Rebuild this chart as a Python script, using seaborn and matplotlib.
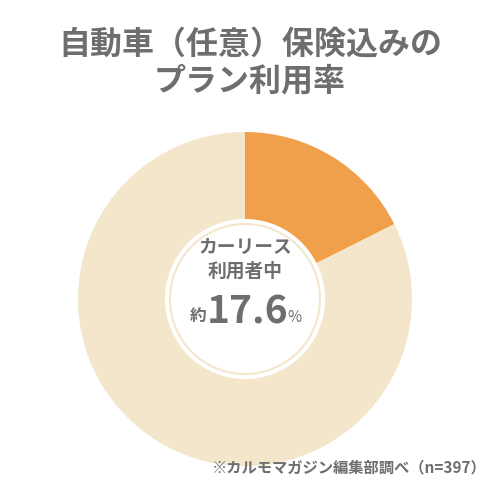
import matplotlib
matplotlib.use("Agg")
import matplotlib.pyplot as plt
import seaborn as sns
from matplotlib.patches import Circle

sns.set_theme(style="white")
plt.rcParams['font.family'] = ['Noto Sans CJK JP', 'DejaVu Sans']

labels = ["カーリース利用者（保険込み）", "その他"]
values = [17.6, 82.4]
colors = ["#F0A04B", "#F3E6CB"]
title = "自動車（任意）保険込みの\nプラン利用率"
note = "※カルモマガジン編集部調べ（n=397）"
gray = "#6E6E6E"

fig = plt.figure(figsize=(5, 5), dpi=100)
ax = fig.add_axes([0, 0, 1, 1])
cx, cy = 245, 500 - 299
ax.pie(values, colors=colors, startangle=90, counterclock=False, center=(cx, cy),
       radius=167, wedgeprops=dict(width=87, edgecolor='none'), frame=True)
ax.set_xlim(0, 500); ax.set_ylim(0, 500); ax.set_aspect('equal'); ax.axis('off')
ax.add_patch(Circle((cx, cy), 75, fill=False, ec="#F3E6CB", lw=1.5))

ax.text(250, 500 - 63, title, ha='center', va='center', fontsize=23, fontweight='bold',
        color=gray, linespacing=1.2)
ax.text(cx, 500 - 247, "カーリース", ha='center', va='center', fontsize=13.5, fontweight='bold', color=gray)
ax.text(cx, 500 - 271, "利用者中", ha='center', va='center', fontsize=13.5, fontweight='bold', color=gray)
ax.text(198, 500 - 316, "約", ha='center', va='center', fontsize=12, fontweight='bold', color=gray)
ax.text(248, 500 - 312, f"{values[0]}", ha='center', va='center', fontsize=28, fontweight='bold', color=gray)
ax.text(294, 500 - 317, "%", ha='center', va='center', fontsize=11, color=gray)
ax.text(487, 500 - 467, note, ha='right', va='center', fontsize=11, fontweight='bold', color=gray)
fig.savefig("out.png", dpi=100, facecolor='white')
